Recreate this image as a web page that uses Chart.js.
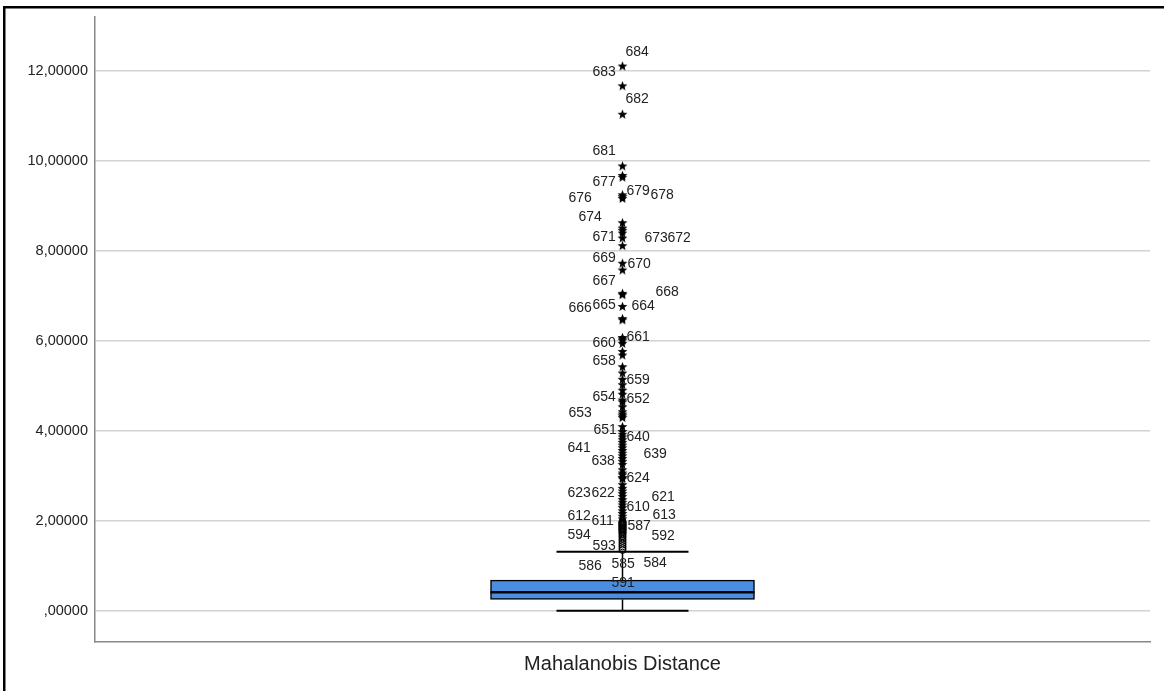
<!DOCTYPE html>
<html lang="en">
<head>
  <meta charset="UTF-8" />
  <title>Mahalanobis Distance</title>
  <script src="https://cdn.jsdelivr.net/npm/chart.js"></script>
  <style>
    html, body { margin: 0; padding: 0; background: #fff; }
  </style>
</head>
<body>
  <canvas id="grafico" width="1164" height="691"></canvas>

  <script>
    // --- dados ---
    const categories = ['Mahalanobis Distance'];
    const yTickValues = [0, 2, 4, 6, 8, 10, 12];
    // whisker inferior, Q1, mediana, Q3, whisker superior
    const boxValues = [0.00, 0.25, 0.41, 0.68, 1.31];

    // casos extremos (estrelas)
    const extremeValues = [
      12.10, 11.66, 11.03, 9.88, 9.67, 9.63, 9.24, 9.20, 9.16,
      8.62, 8.50, 8.45, 8.39, 8.28, 8.11, 7.72, 7.57, 7.05, 7.02,
      6.76, 6.49, 6.46, 6.07, 6.04, 6.01,
      5.94, 5.76, 5.68, 5.42, 5.28, 5.14, 5.02, 4.90, 4.81,
      4.68, 4.64, 4.53, 4.42, 4.37, 4.33, 4.29, 4.09,
      3.98, 3.92, 3.86, 3.80, 3.74, 3.68, 3.62, 3.56, 3.50, 3.44, 3.38, 3.32, 3.25,
      3.13, 3.06, 3.02, 2.96, 2.93,
      2.80, 2.72, 2.66, 2.60, 2.54, 2.47, 2.41, 2.35, 2.29, 2.22, 2.16, 2.10, 2.04
    ];

    // outliers (círculos)
    const outlierValues = [
      1.98, 1.97, 1.95, 1.94, 1.93, 1.91, 1.90, 1.89, 1.87, 1.86, 1.84, 1.83, 1.81, 1.80,
      1.78, 1.76, 1.74, 1.72, 1.69, 1.66, 1.63, 1.59, 1.55, 1.51, 1.47, 1.43, 1.39, 1.35
    ];

    // rótulos dos casos
    const labelIds = [
      '684', '683', '682', '681', '677', '679', '678', '676', '674',
      '671', '673', '672', '669', '670', '667', '668', '666', '665', '664',
      '661', '660', '658', '659', '654', '652', '653',
      '651', '640', '641', '639', '638', '624', '623', '622', '621', '610',
      '612', '613', '611', '587', '594', '592', '593', '586', '585', '584', '591'
    ];
    const labelValues = [
      12.42, 11.96, 11.37, 10.20, 9.53, 9.31, 9.24, 9.16, 8.74,
      8.30, 8.28, 8.28, 7.83, 7.70, 7.33, 7.07, 6.73, 6.79, 6.77,
      6.08, 5.94, 5.55, 5.13, 4.74, 4.70, 4.39,
      4.02, 3.85, 3.61, 3.48, 3.33, 2.94, 2.61, 2.61, 2.53, 2.31,
      2.10, 2.13, 1.98, 1.88, 1.68, 1.66, 1.44, 1.00, 1.03, 1.05, 0.62
    ];

    // deslocamento horizontal de cada rótulo (px, a partir do centro)
    const labelDx = [
      3, -30, 3, -30, -30, 4, 28, -54, -44,
      -30, 22, 45, -30, 5, -30, 33, -54, -30, 9,
      4, -30, -30, 4, -30, 4, -54,
      -29, 4, -55, 21, -31, 4, -55, -31, 29, 4,
      -55, 30, -31, 5, -55, 29, -30, -44, -11, 21, -11
    ];

    const FONTE = "'Liberation Sans', Arial, sans-serif";

    // estrela de 5 pontas usada pelo SPSS
    function makeStar() {
      const c = document.createElement('canvas');
      c.width = 11; c.height = 11;
      const g = c.getContext('2d');
      g.beginPath();
      for (let i = 0; i < 10; i++) {
        const r = i % 2 === 0 ? 5.2 : 2.2;
        const a = -Math.PI / 2 + i * Math.PI / 5;
        const px = 5.5 + r * Math.cos(a), py = 5.9 + r * Math.sin(a);
        if (i === 0) g.moveTo(px, py); else g.lineTo(px, py);
      }
      g.closePath();
      g.fillStyle = '#000';
      g.fill();
      return c;
    }

    function formatTick(v) {
      let s = Number(v).toFixed(5).replace('.', ',');
      if (s.startsWith('0')) s = s.slice(1);
      return s;
    }

    const boxPlugin = {
      id: 'boxPlugin',
      beforeDraw(chart) {
        const ctx = chart.ctx;
        ctx.save();
        ctx.fillStyle = '#000';
        ctx.fillRect(3, 6, 2.5, chart.height);
        ctx.fillRect(3, 6, chart.width, 2.5);
        ctx.restore();
      },
      beforeDatasetsDraw(chart) {
        const ctx = chart.ctx;
        const xs = chart.scales.x, ys = chart.scales.y;
        const cx = xs.getPixelForValue(0);
        ctx.save();
        ctx.strokeStyle = '#000';
        ctx.lineWidth = 1.5;
        ctx.beginPath();
        ctx.moveTo(cx, ys.getPixelForValue(boxValues[3]));
        ctx.lineTo(cx, ys.getPixelForValue(boxValues[4]));
        ctx.moveTo(cx, ys.getPixelForValue(boxValues[1]));
        ctx.lineTo(cx, ys.getPixelForValue(boxValues[0]));
        ctx.stroke();
        ctx.lineWidth = 2;
        ctx.beginPath();
        [boxValues[0], boxValues[4]].forEach(v => {
          const y = ys.getPixelForValue(v);
          ctx.moveTo(cx - 66, y);
          ctx.lineTo(cx + 66, y);
        });
        ctx.stroke();
        ctx.restore();
      },
      afterDatasetsDraw(chart) {
        const ctx = chart.ctx;
        const xs = chart.scales.x, ys = chart.scales.y;
        const bar = chart.getDatasetMeta(0).data[0];
        const cx = xs.getPixelForValue(0);
        ctx.save();
        // mediana
        ctx.strokeStyle = '#000';
        ctx.lineWidth = 2.7;
        ctx.beginPath();
        const ym = ys.getPixelForValue(boxValues[2]);
        ctx.moveTo(bar.x - bar.width / 2, ym);
        ctx.lineTo(bar.x + bar.width / 2, ym);
        ctx.stroke();
        // rótulos
        ctx.font = '14px ' + FONTE;
        ctx.fillStyle = '#222';
        ctx.textAlign = 'left';
        ctx.textBaseline = 'middle';
        labelIds.forEach((id, i) => {
          ctx.fillText(id, cx + labelDx[i], ys.getPixelForValue(labelValues[i]));
        });
        ctx.restore();
      }
    };

    const ctx = document.getElementById('grafico').getContext('2d');
    new Chart(ctx, {
      type: 'bar',
      data: {
        labels: categories,
        datasets: [
          {
            data: [[boxValues[1], boxValues[3]]],
            backgroundColor: '#4a8fdf',
            borderColor: '#000',
            borderWidth: 1.5,
            borderSkipped: false,
            barThickness: 264,
            order: 3
          },
          {
            type: 'scatter',
            data: outlierValues.map(v => ({ x: categories[0], y: v })),
            pointStyle: 'circle',
            pointRadius: 3.5,
            borderColor: '#000',
            borderWidth: 1,
            backgroundColor: 'rgba(255,255,255,0)',
            order: 2
          },
          {
            type: 'scatter',
            data: extremeValues.map(v => ({ x: categories[0], y: v })),
            pointStyle: makeStar(),
            pointRadius: 5,
            order: 1
          }
        ]
      },
      options: {
        responsive: false,
        animation: false,
        devicePixelRatio: 1,
        layout: { padding: { top: 17, right: 14, bottom: 0, left: 0 } },
        plugins: {
          legend: { display: false },
          tooltip: { enabled: false }
        },
        scales: {
          x: {
            type: 'category',
            grid: { display: false },
            border: { color: '#888', width: 1.5 },
            ticks: { display: false },
            title: {
              display: true,
              text: categories[0],
              color: '#222',
              font: { family: FONTE, size: 20 },
              padding: { top: 0, bottom: 15 }
            },
            afterFit(scale) { scale.height = 49.3; }
          },
          y: {
            min: -0.689,
            max: 13.19,
            grid: { color: '#d2d2d2', lineWidth: 1.5, drawTicks: false },
            border: { color: '#888', width: 1.5 },
            ticks: {
              padding: 7,
              color: '#222',
              font: { family: FONTE, size: 14.5 },
              callback: formatTick
            },
            afterBuildTicks(scale) {
              scale.ticks = yTickValues.map(v => ({ value: v }));
            },
            afterFit(scale) { scale.width = 95; }
          }
        }
      },
      plugins: [boxPlugin]
    });
  </script>
</body>
</html>
